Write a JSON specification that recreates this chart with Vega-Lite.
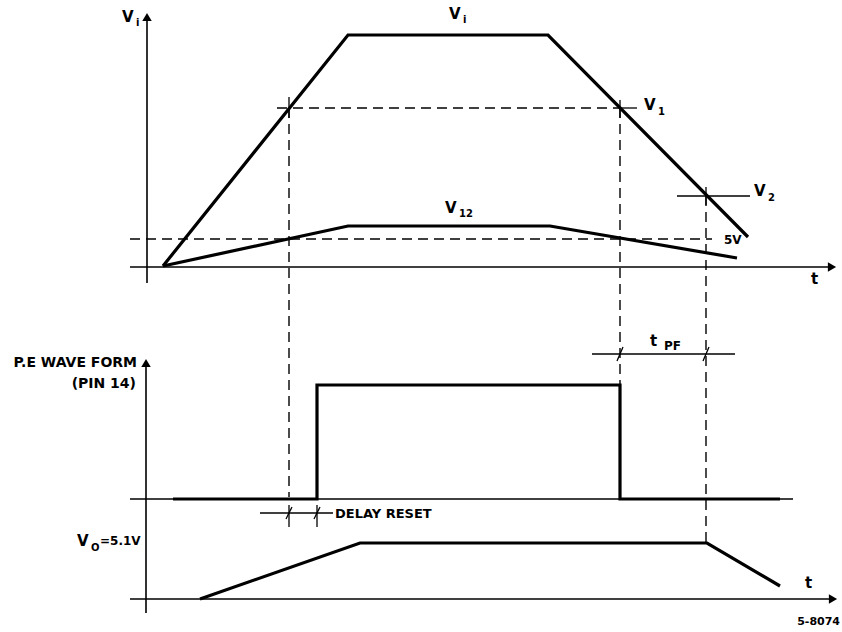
{
  "$schema": "https://vega.github.io/schema/vega-lite/v6.json",
  "width": 842,
  "height": 632,
  "autosize": {"type": "fit", "contains": "padding"},
  "padding": 0,
  "background": "white",
  "config": {"view": {"stroke": null}},
  "datasets": {
    "axes": [
      {"x": 147, "y": 16, "x2": 147, "y2": 283},
      {"x": 130, "y": 267, "x2": 830, "y2": 267},
      {"x": 146, "y": 362, "x2": 146, "y2": 613},
      {"x": 130, "y": 499, "x2": 793, "y2": 499},
      {"x": 130, "y": 599, "x2": 831, "y2": 599}
    ],
    "signals": [
      {"id": "Vi", "i": 0, "x": 163, "y": 266},
      {"id": "Vi", "i": 1, "x": 348, "y": 35},
      {"id": "Vi", "i": 2, "x": 548, "y": 35},
      {"id": "Vi", "i": 3, "x": 748, "y": 237},
      {"id": "V12", "i": 0, "x": 163, "y": 266},
      {"id": "V12", "i": 1, "x": 348, "y": 226},
      {"id": "V12", "i": 2, "x": 550, "y": 226},
      {"id": "V12", "i": 3, "x": 737, "y": 258},
      {"id": "PE", "i": 0, "x": 173, "y": 499},
      {"id": "PE", "i": 1, "x": 317, "y": 499},
      {"id": "PE", "i": 2, "x": 317, "y": 385},
      {"id": "PE", "i": 3, "x": 620, "y": 385},
      {"id": "PE", "i": 4, "x": 620, "y": 499},
      {"id": "PE", "i": 5, "x": 780, "y": 499},
      {"id": "Vo", "i": 0, "x": 200, "y": 599},
      {"id": "Vo", "i": 1, "x": 360, "y": 543},
      {"id": "Vo", "i": 2, "x": 707, "y": 543},
      {"id": "Vo", "i": 3, "x": 780, "y": 586}
    ],
    "dashed": [
      {"x": 277, "y": 108, "x2": 620, "y2": 108},
      {"x": 130, "y": 239, "x2": 712, "y2": 239},
      {"x": 289, "y": 108, "x2": 289, "y2": 497},
      {"x": 620, "y": 108, "x2": 620, "y2": 385},
      {"x": 706, "y": 196, "x2": 706, "y2": 542}
    ],
    "thin": [
      {"x": 620, "y": 108, "x2": 637, "y2": 108},
      {"x": 289, "y": 97, "x2": 289, "y2": 118},
      {"x": 620, "y": 100, "x2": 620, "y2": 118},
      {"x": 677, "y": 196, "x2": 750, "y2": 196},
      {"x": 706, "y": 187, "x2": 706, "y2": 205},
      {"x": 592, "y": 354, "x2": 735, "y2": 354},
      {"x": 617, "y": 361, "x2": 623, "y2": 347},
      {"x": 703, "y": 361, "x2": 709, "y2": 347},
      {"x": 260, "y": 513, "x2": 333, "y2": 513},
      {"x": 289, "y": 505, "x2": 289, "y2": 527},
      {"x": 317, "y": 505, "x2": 317, "y2": 527},
      {"x": 286, "y": 519, "x2": 292, "y2": 507},
      {"x": 314, "y": 519, "x2": 320, "y2": 507}
    ],
    "arrowsUp": [
      {"x": 147, "y": 17},
      {"x": 146, "y": 363}
    ],
    "arrowsRight": [
      {"x": 832, "y": 267},
      {"x": 833, "y": 599}
    ],
    "labels": [
      {"x": 122, "y": 17, "label": "V"},
      {"x": 449, "y": 14, "label": "V"},
      {"x": 644, "y": 105, "label": "V"},
      {"x": 445, "y": 208, "label": "V"},
      {"x": 754, "y": 191, "label": "V"},
      {"x": 811, "y": 279, "label": "t"},
      {"x": 805, "y": 583, "label": "t"},
      {"x": 650, "y": 341, "label": "t"},
      {"x": 77, "y": 541, "label": "V"}
    ],
    "smallLabels": [
      {"x": 724, "y": 240, "label": "5V"},
      {"x": 100, "y": 541, "label": "=5.1V"},
      {"x": 664, "y": 346, "label": "PF"}
    ],
    "subs": [
      {"x": 136, "y": 23, "label": "i"},
      {"x": 463, "y": 20, "label": "i"},
      {"x": 658, "y": 112, "label": "1"},
      {"x": 459, "y": 214, "label": "12"},
      {"x": 768, "y": 198, "label": "2"},
      {"x": 91, "y": 548, "label": "O"}
    ],
    "delay": [
      {"x": 335, "y": 514, "label": "DELAY RESET"}
    ],
    "rightLabels": [
      {"x": 137, "y": 363, "label": "P.E WAVE FORM"},
      {"x": 136, "y": 384, "label": "(PIN 14)"}
    ],
    "code": [
      {"x": 840, "y": 622, "label": "5-8074"}
    ]
  },
  "encoding": {
    "x": {"field": "x", "type": "quantitative", "axis": null, "scale": {"domain": [0, 842], "nice": false, "zero": false}},
    "y": {"field": "y", "type": "quantitative", "axis": null, "scale": {"domain": [0, 632], "nice": false, "zero": false, "reverse": true}}
  },
  "layer": [
    {
      "data": {"name": "axes"},
      "mark": {"type": "rule", "color": "black", "strokeWidth": 1.6},
      "encoding": {"x2": {"field": "x2"}, "y2": {"field": "y2"}}
    },
    {
      "data": {"name": "dashed"},
      "mark": {"type": "rule", "color": "black", "strokeWidth": 1.4, "strokeDash": [10, 6]},
      "encoding": {"x2": {"field": "x2"}, "y2": {"field": "y2"}}
    },
    {
      "data": {"name": "thin"},
      "mark": {"type": "rule", "color": "black", "strokeWidth": 1.3},
      "encoding": {"x2": {"field": "x2"}, "y2": {"field": "y2"}}
    },
    {
      "data": {"name": "signals"},
      "mark": {"type": "line", "color": "black", "strokeWidth": 3.2, "strokeJoin": "miter"},
      "encoding": {"detail": {"field": "id"}, "order": {"field": "i", "type": "quantitative"}}
    },
    {
      "data": {"name": "arrowsUp"},
      "mark": {"type": "point", "shape": "triangle-up", "filled": true, "color": "black", "size": 90, "opacity": 1}
    },
    {
      "data": {"name": "arrowsRight"},
      "mark": {"type": "point", "shape": "triangle-right", "filled": true, "color": "black", "size": 90, "opacity": 1}
    },
    {
      "data": {"name": "labels"},
      "mark": {"type": "text", "align": "left", "baseline": "middle", "font": "DejaVu Sans", "fontWeight": "bold", "fontSize": 15, "color": "black"},
      "encoding": {"text": {"field": "label"}}
    },
    {
      "data": {"name": "smallLabels"},
      "mark": {"type": "text", "align": "left", "baseline": "middle", "font": "DejaVu Sans", "fontWeight": "bold", "fontSize": 12, "color": "black"},
      "encoding": {"text": {"field": "label"}}
    },
    {
      "data": {"name": "subs"},
      "mark": {"type": "text", "align": "left", "baseline": "middle", "font": "DejaVu Sans", "fontWeight": "bold", "fontSize": 10, "color": "black"},
      "encoding": {"text": {"field": "label"}}
    },
    {
      "data": {"name": "delay"},
      "mark": {"type": "text", "align": "left", "baseline": "middle", "font": "DejaVu Sans", "fontWeight": "bold", "fontSize": 13, "color": "black"},
      "encoding": {"text": {"field": "label"}}
    },
    {
      "data": {"name": "rightLabels"},
      "mark": {"type": "text", "align": "right", "baseline": "middle", "font": "DejaVu Sans", "fontWeight": "bold", "fontSize": 14, "color": "black"},
      "encoding": {"text": {"field": "label"}}
    },
    {
      "data": {"name": "code"},
      "mark": {"type": "text", "align": "right", "baseline": "middle", "font": "DejaVu Sans", "fontWeight": "bold", "fontSize": 11, "color": "black"},
      "encoding": {"text": {"field": "label"}}
    }
  ]
}
